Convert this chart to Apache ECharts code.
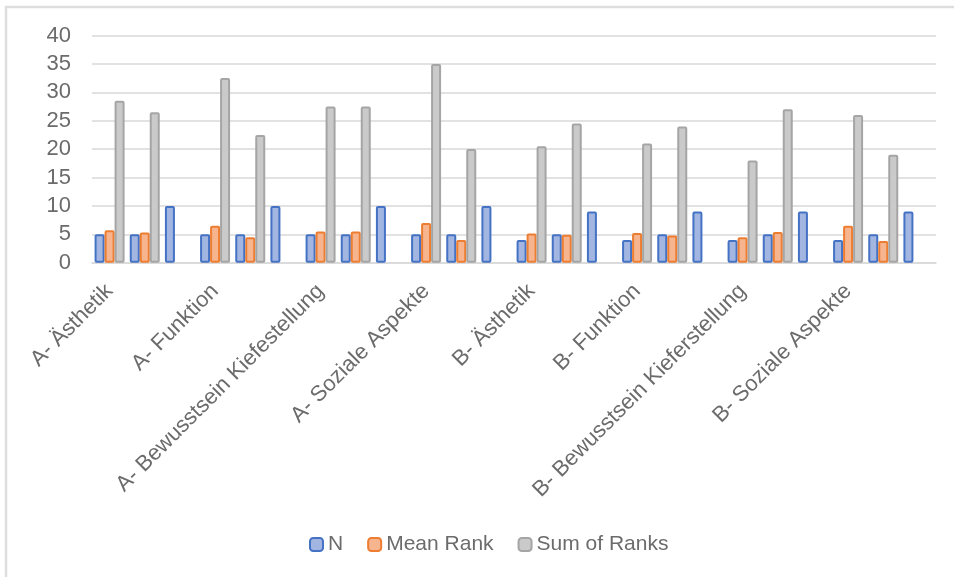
<!DOCTYPE html>
<html>
<head>
<meta charset="utf-8">
<script src="https://cdn.jsdelivr.net/npm/echarts@6/dist/echarts.min.js"></script>
<style>
html,body{margin:0;padding:0;background:#fff;}
#chart{width:954px;height:577px;}
</style>
</head>
<body>
<div id="chart"></div>
<script>
// Main categories (label shown on the first of each three bar slots)
const groups = ["A- Ästhetik", "A- Funktion", "A- Bewusstsein Kiefestellung", "A- Soziale Aspekte",
                "B- Ästhetik", "B- Funktion", "B- Bewusstsein Kieferstellung", "B- Soziale Aspekte"];
const subgroups = ["1", "2", "Gesamt"];
const seriesNames = ["N", "Mean Rank", "Sum of Ranks"];
const yTicks = [0, 5, 10, 15, 20, 25, 30, 35, 40];

const nValues = [5, 5, 10,  5, 5, 10,  5, 5, 10,  5, 5, 10,
                 4, 5, 9,   4, 5, 9,   4, 5, 9,   4, 5, 9];
const meanRank = [5.7, 5.3, null,  6.5, 4.5, null,  5.5, 5.5, null,  7.0, 4.0, null,
                  5.13, 4.9, null, 5.25, 4.8, null, 4.5, 5.4, null,  6.5, 3.8, null];
const sumRanks = [28.5, 26.5, null, 32.5, 22.5, null, 27.5, 27.5, null, 35, 20, null,
                  20.5, 24.5, null, 21, 24, null,     18, 27, null,     26, 19, null];

const categories = [];
groups.forEach(g => subgroups.forEach(s => categories.push(g + "|" + s)));

const FONT = "'Liberation Sans', Arial, sans-serif";
const TXT = "#6b6b6b";

function barStyle(fill, border) {
  return {
    color: fill,
    borderColor: border,
    borderWidth: 2,
    borderRadius: 1
  };
}

const chart = echarts.init(document.getElementById('chart'));
chart.setOption({
  animation: false,
  backgroundColor: '#ffffff',
  graphic: [{
    type: 'rect',
    shape: { x: 6, y: 7, width: 1200, height: 1000 },
    style: { fill: 'none', stroke: '#dedede', lineWidth: 2.5 },
    silent: true
  }],
  grid: { left: 92, right: 18, top: 35.5, bottom: 314.3, containLabel: false },
  legend: {
    left: 304,
    top: 529,
    itemWidth: 13,
    itemHeight: 13,
    itemGap: 24,
    textStyle: { fontFamily: FONT, fontSize: 21, color: TXT },
    data: seriesNames
  },
  xAxis: {
    type: 'category',
    data: categories,
    axisLine: { lineStyle: { color: '#d9d9d9', width: 1.5 } },
    axisTick: { show: false },
    axisLabel: {
      interval: 0,
      rotate: 45,
      margin: 25,
      fontFamily: FONT,
      fontSize: 22,
      color: TXT,
      formatter: function (v, i) { return i % 3 === 0 ? v.split("|")[0] : ""; }
    }
  },
  yAxis: {
    type: 'value',
    min: yTicks[0],
    max: yTicks[yTicks.length - 1],
    interval: yTicks[1] - yTicks[0],
    axisLine: { show: false },
    axisTick: { show: false },
    splitLine: { lineStyle: { color: '#d9d9d9', width: 1.5 } },
    axisLabel: { margin: 21, fontFamily: FONT, fontSize: 22, color: TXT }
  },
  series: [
    { name: seriesNames[0], type: 'bar', data: nValues, barWidth: 10, barGap: '0%',
      itemStyle: barStyle('#a3b6e2', '#4472c4') },
    { name: seriesNames[1], type: 'bar', data: meanRank, barWidth: 10, barGap: '0%',
      itemStyle: barStyle('#f6b48f', '#ed7d31') },
    { name: seriesNames[2], type: 'bar', data: sumRanks, barWidth: 10, barGap: '0%',
      itemStyle: barStyle('#cacaca', '#a5a5a5') }
  ]
});
</script>
</body>
</html>
